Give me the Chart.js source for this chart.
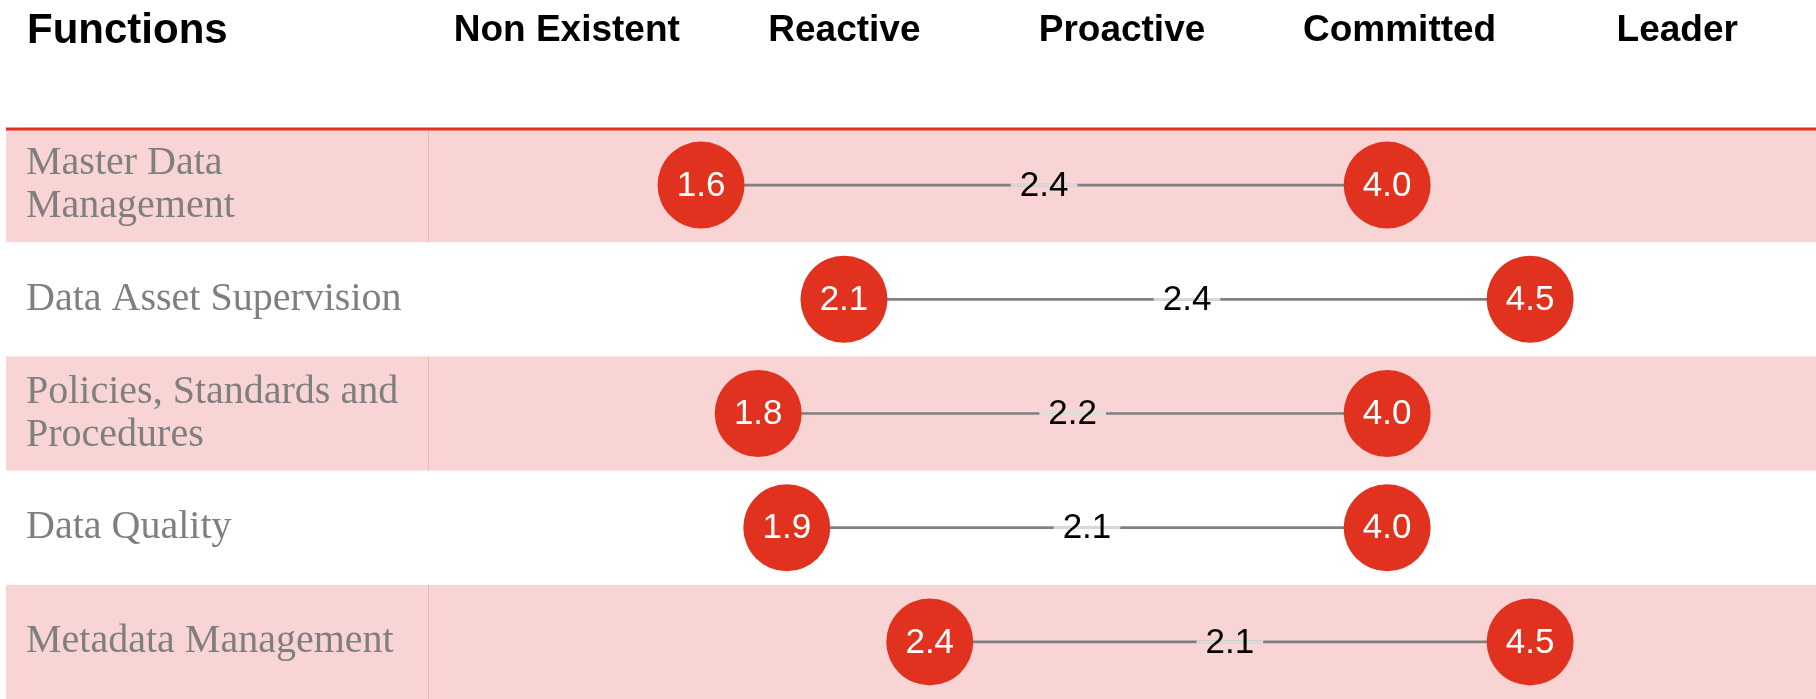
<!DOCTYPE html>
<html>
<head>
<meta charset="utf-8">
<script src="https://cdn.jsdelivr.net/npm/chart.js@4.4.1/dist/chart.umd.min.js"></script>
<style>
  html, body { margin: 0; padding: 0; background: #fff; }
  canvas { display: block; }
</style>
</head>
<body>
<canvas id="maturity" width="1816" height="699"></canvas>
<script>
const functions = [
  ["Master Data", "Management"],
  "Data Asset Supervision",
  ["Policies, Standards and", "Procedures"],
  "Data Quality",
  "Metadata Management",
];
const levels = ["Non Existent", "Reactive", "Proactive", "Committed", "Leader"];
const current = [1.6, 2.1, 1.8, 1.9, 2.4];
const target = [4.0, 4.5, 4.0, 4.0, 4.5];

const RED = "#e0321f";
const PINK = "#f8d5d4";
const SANS = "'Liberation Sans', Arial, sans-serif";
const SERIF = "'Liberation Serif', 'Times New Roman', serif";

// striped rows, red rule under the header, column divider and the "Functions" heading
const rowBands = {
  id: "rowBands",
  beforeDraw(chart) {
    const { ctx, chartArea, scales } = chart;
    const step = chartArea.height / functions.length;
    ctx.save();
    functions.forEach((_, i) => {
      if (i % 2) return;
      const mid = scales.y.getPixelForValue(i);
      ctx.fillStyle = PINK;
      ctx.fillRect(6, mid - step / 2, chart.width - 6, step);
      ctx.fillStyle = "#f1b9b3";
      ctx.fillRect(chartArea.left, mid - step / 2, 1, step);
    });
    ctx.fillStyle = RED;
    ctx.fillRect(6, chartArea.top - 0.5, chart.width - 6, 3);

    ctx.fillStyle = "#000";
    ctx.font = `bold 42px ${SANS}`;
    ctx.textBaseline = "alphabetic";
    ctx.fillText("Functions", 27, 43);
    ctx.restore();
  },
};

// numbers inside the circles and the gap label on each connector
const valueLabels = {
  id: "valueLabels",
  afterDatasetsDraw(chart) {
    const { ctx } = chart;
    ctx.save();
    ctx.textAlign = "center";
    ctx.textBaseline = "middle";
    ctx.font = `35px ${SANS}`;

    chart.getDatasetMeta(0).data.forEach((bar, i) => {
      const gap = (target[i] - current[i]).toFixed(1);
      const cx = (bar.x + bar.base) / 2;
      const w = ctx.measureText(gap).width + 18;
      ctx.fillStyle = "rgba(255,255,255,0.7)";
      ctx.fillRect(cx - w / 2, bar.y - 1.5, w, 3);
      ctx.fillStyle = "#000";
      ctx.fillText(gap, cx, bar.y + 1);
    });

    [1, 2].forEach((d) => {
      const values = chart.data.datasets[d].data;
      chart.getDatasetMeta(d).data.forEach((pt, i) => {
        ctx.fillStyle = "#fff";
        ctx.fillText(values[i].toFixed(1), pt.x, pt.y + 1);
      });
    });
    ctx.restore();
  },
};

// no overflow padding around the axes: the plot runs to the canvas edges
const noPadding = (s) => {
  s.paddingLeft = s.paddingRight = s.paddingTop = s.paddingBottom = 0;
};

const dot = {
  type: "line",
  showLine: false,
  xAxisID: "x",
  yAxisID: "y",
  pointRadius: 43.5,
  pointHoverRadius: 43.5,
  pointBackgroundColor: RED,
  pointBorderWidth: 0,
  clip: false,
  order: 1,
};

new Chart(document.getElementById("maturity"), {
  type: "bar",
  data: {
    labels: functions,
    datasets: [
      {
        label: "Gap",
        data: current.map((c, i) => [c, target[i]]),
        backgroundColor: "#808080",
        barThickness: 2,
        xAxisID: "x",
        yAxisID: "y",
        order: 2,
      },
      { ...dot, label: "Current", data: current },
      { ...dot, label: "Target", data: target },
    ],
  },
  options: {
    indexAxis: "y",
    responsive: false,
    animation: false,
    layout: { autoPadding: false, padding: { left: 26 } },
    plugins: { legend: { display: false }, tooltip: { enabled: false } },
    scales: {
      x: { type: "linear", min: 0.645, max: 5.5, display: false },
      levels: {
        type: "category",
        labels: levels,
        position: "top",
        offset: true,
        grid: { display: false, drawTicks: false },
        border: { display: false },
        ticks: {
          color: "#000",
          padding: 75,
          font: { family: SANS, size: 37, weight: "bold" },
        },
        afterFit: (s) => { s.height = 128; noPadding(s); },
      },
      y: {
        type: "category",
        offset: true,
        grid: { display: false, drawTicks: false },
        border: { display: false },
        ticks: {
          crossAlign: "far",
          autoSkip: false,
          padding: 0,
          color: "#7f7f7f",
          font: { family: SERIF, size: 40, lineHeight: 1.075 },
        },
        afterFit: (s) => { s.width = 402; noPadding(s); },
      },
    },
  },
  plugins: [rowBands, valueLabels],
});
</script>
</body>
</html>
